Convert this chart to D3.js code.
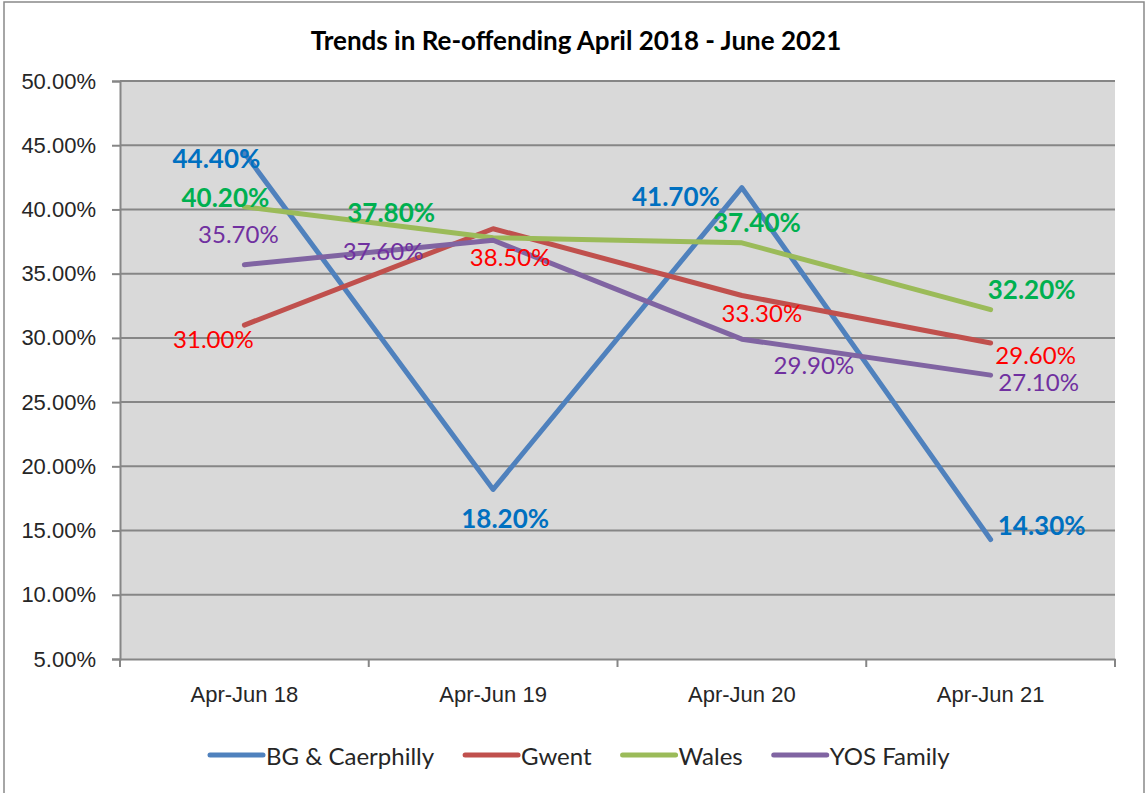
<!DOCTYPE html>
<html>
<head>
<meta charset="utf-8">
<script src="https://cdn.jsdelivr.net/npm/d3@7"></script>
<style>
  body { margin: 0; background: #fff; }
  svg { display: block; font-family: Lato, "Open Sans", sans-serif; }
</style>
</head>
<body>
<div id="chart"></div>
<script>
var W = 1146, H = 793;

// Data
var categories = ["Apr-Jun 18", "Apr-Jun 19", "Apr-Jun 20", "Apr-Jun 21"];
var seriesNames = ["BG & Caerphilly", "Gwent", "Wales", "YOS Family"];
var bgCaerphilly = [44.4, 18.2, 41.7, 14.3];
var gwent = [31.0, 38.5, 33.3, 29.6];
var wales = [40.2, 37.8, 37.4, 32.2];
var yosFamily = [35.7, 37.6, 29.9, 27.1];
var yTicks = [5, 10, 15, 20, 25, 30, 35, 40, 45, 50];

// styling for each series
var lineColors = ["#4F81BD", "#C0504D", "#9BBB59", "#8064A2"];
var labelColors = ["#0070C0", "#FF0000", "#00B050", "#7030A0"];
var labelBold = [true, false, true, false];
// label offsets from point (centre of label), like the manual placement in the original
var labelOffsets = [
    [[-28, 5], [12, 29], [-66, 8], [51, -15]],
    [[-31, 13], [17, 28], [20, 17], [45, 11]],
    [[-19, -10], [-102, -26], [15, -21], [41, -21]],
    [[-6, -31], [-110, 10], [72, 25], [48, 6]]
];

var allSeries = [bgCaerphilly, gwent, wales, yosFamily];

var margin = { left: 120, top: 81, right: 1115, bottom: 659 };

var svg = d3.select("#chart").append("svg")
    .attr("width", W)
    .attr("height", H);

// outer border
svg.append("rect")
    .attr("x", 4).attr("y", 2)
    .attr("width", 1140).attr("height", 800)
    .attr("fill", "#fff")
    .attr("stroke", "#898989")
    .attr("stroke-width", 1.5);

var x = d3.scaleBand()
    .domain(categories)
    .range([margin.left, margin.right]);

var y = d3.scaleLinear()
    .domain([5, 50])
    .range([margin.bottom, margin.top]);

// plot background
svg.append("rect")
    .attr("x", margin.left).attr("y", margin.top)
    .attr("width", margin.right - margin.left)
    .attr("height", margin.bottom - margin.top)
    .attr("fill", "#D9D9D9");

// y axis
var yAxis = d3.axisLeft(y)
    .tickValues(yTicks)
    .tickSize(8)
    .tickPadding(16)
    .tickFormat(function(d) { return d.toFixed(2) + "%"; });

svg.append("g")
    .attr("transform", "translate(" + margin.left + ",0)")
    .call(yAxis)
    .call(function(g) {
        g.select(".domain").attr("stroke", "#868686").attr("stroke-width", 2);
        g.selectAll(".tick line").attr("stroke", "#868686").attr("stroke-width", 2);
        g.selectAll(".tick text").attr("fill", "#262626").attr("font-size", "22px");
    });

// gridlines
svg.append("g")
    .selectAll("line")
    .data(yTicks.slice(1))
    .join("line")
    .attr("x1", margin.left).attr("x2", margin.right)
    .attr("y1", function(d) { return y(d); })
    .attr("y2", function(d) { return y(d); })
    .attr("stroke", "#868686")
    .attr("stroke-width", 2);

// x axis
var xAxis = d3.axisBottom(x).tickSize(0).tickPadding(27);
var gx = svg.append("g")
    .attr("transform", "translate(0," + margin.bottom + ")")
    .call(xAxis);
gx.select(".domain").attr("stroke", "#868686").attr("stroke-width", 2);
gx.selectAll(".tick text").attr("fill", "#262626").attr("font-size", "22px");

// x tick marks at the band edges
var edges = categories.map(function(c) { return x(c); }).concat([margin.right]);
gx.selectAll(".edge")
    .data(edges)
    .join("line")
    .attr("class", "edge")
    .attr("x1", function(d) { return d; })
    .attr("x2", function(d) { return d; })
    .attr("y1", 0).attr("y2", 8)
    .attr("stroke", "#868686")
    .attr("stroke-width", 2);

// lines
var line = d3.line()
    .x(function(d, i) { return x(categories[i]) + x.bandwidth() / 2; })
    .y(function(d) { return y(d); });

svg.append("g")
    .selectAll("path")
    .data(allSeries)
    .join("path")
    .attr("d", line)
    .attr("fill", "none")
    .attr("stroke", function(d, i) { return lineColors[i]; })
    .attr("stroke-width", 5)
    .attr("stroke-linecap", "round")
    .attr("stroke-linejoin", "round");

// data labels
allSeries.forEach(function(vals, s) {
    svg.append("g")
        .selectAll("text")
        .data(vals)
        .join("text")
        .attr("x", function(d, i) { return x(categories[i]) + x.bandwidth() / 2 + labelOffsets[s][i][0]; })
        .attr("y", function(d, i) { return y(d) + labelOffsets[s][i][1]; })
        .attr("text-anchor", "middle")
        .attr("dominant-baseline", "central")
        .attr("font-size", labelBold[s] ? "26px" : "24px")
        .attr("font-weight", labelBold[s] ? "bold" : "normal")
        .attr("fill", labelColors[s])
        .text(function(d) { return d.toFixed(2) + "%"; });
});

// title
svg.append("text")
    .attr("x", 576).attr("y", 50)
    .attr("text-anchor", "middle")
    .attr("font-size", "26px")
    .attr("font-weight", "bold")
    .attr("fill", "#000")
    .text("Trends in Re-offending April 2018 - June 2021");

// legend
var legend = svg.append("g").attr("transform", "translate(210,755)");
var lx = 0;
seriesNames.forEach(function(name, i) {
    var item = legend.append("g").attr("transform", "translate(" + lx + ",0)");
    item.append("line")
        .attr("x1", 0).attr("x2", 53)
        .attr("y1", 0).attr("y2", 0)
        .attr("stroke", lineColors[i])
        .attr("stroke-width", 5)
        .attr("stroke-linecap", "round");
    var t = item.append("text")
        .attr("x", 56).attr("y", 0)
        .attr("dominant-baseline", "central")
        .attr("font-size", "24px")
        .attr("fill", "#262626")
        .text(name);
    lx += 56 + t.node().getComputedTextLength() + 31;
});
</script>
</body>
</html>
